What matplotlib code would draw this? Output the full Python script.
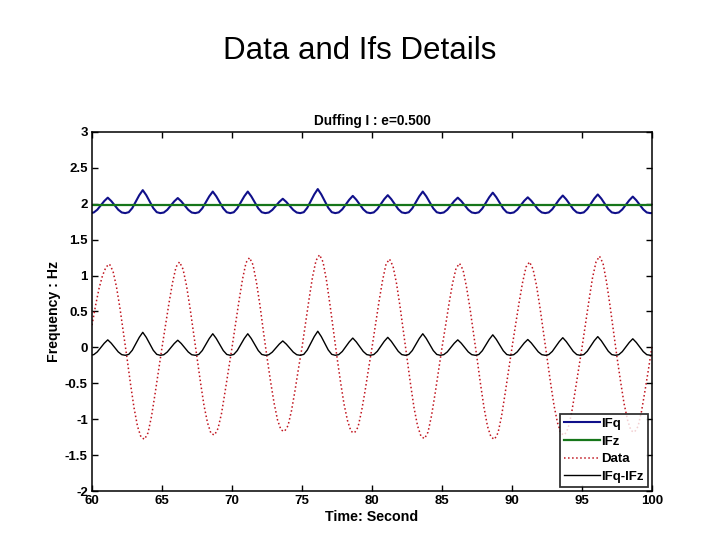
"""
Duffing I (e=0.500): data and instantaneous frequencies, 60-100 s.
"""

import numpy as np
import matplotlib
matplotlib.use('Agg')
import matplotlib.pyplot as plt

plt.rcParams['font.family'] = ['Liberation Sans', 'DejaVu Sans']

# Data (red dotted), sampled every 0.25 s from 60 to 100 s
DATA_T0, DATA_DT = 60.0, 0.25
DATA = [
    0.31, 0.58, 0.82, 1.00, 1.12, 1.16, 1.06, 0.84, 0.54, 0.20,
    -0.15, -0.51, -0.84, -1.10, -1.25, -1.28, -1.19, -0.96, -0.65, -0.32,
    0.00, 0.31, 0.62, 0.90, 1.12, 1.19, 1.09, 0.86, 0.55, 0.20,
    -0.15, -0.49, -0.81, -1.05, -1.20, -1.22, -1.13, -0.92, -0.62, -0.31,
    0.00, 0.33, 0.65, 0.95, 1.18, 1.25, 1.15, 0.90, 0.58, 0.21,
    -0.14, -0.47, -0.77, -1.01, -1.15, -1.17, -1.09, -0.88, -0.60, -0.29,
    0.00, 0.34, 0.67, 0.98, 1.21, 1.29, 1.19, 0.93, 0.59, 0.22,
    -0.14, -0.48, -0.79, -1.02, -1.17, -1.19, -1.11, -0.89, -0.61, -0.30,
    0.00, 0.32, 0.64, 0.93, 1.16, 1.23, 1.13, 0.89, 0.57, 0.21,
    -0.15, -0.51, -0.84, -1.09, -1.24, -1.27, -1.18, -0.95, -0.65, -0.32,
    0.00, 0.30, 0.61, 0.89, 1.10, 1.17, 1.08, 0.84, 0.54, 0.20,
    -0.15, -0.51, -0.84, -1.10, -1.25, -1.28, -1.19, -0.96, -0.65, -0.32,
    0.00, 0.31, 0.62, 0.90, 1.12, 1.19, 1.09, 0.86, 0.55, 0.20,
    -0.15, -0.49, -0.81, -1.05, -1.20, -1.22, -1.13, -0.92, -0.62, -0.31,
    0.00, 0.33, 0.66, 0.97, 1.19, 1.27, 1.17, 0.91, 0.58, 0.22,
    -0.14, -0.47, -0.78, -1.01, -1.16, -1.18, -1.10, -0.89, -0.60, -0.30,
    0.02,
]

# IFq (blue), sampled every 0.25 s starting at 59.875 s
IFQ_T0, IFQ_DT = 59.875, 0.25
IFQ = [
    1.870, 1.879, 1.917, 1.978, 2.038, 2.085,
    2.038, 1.978, 1.917, 1.879, 1.870, 1.883, 1.940, 2.030, 2.120, 2.190,
    2.120, 2.030, 1.940, 1.883, 1.870, 1.878, 1.916, 1.975, 2.034, 2.080,
    2.034, 1.975, 1.916, 1.878, 1.870, 1.882, 1.936, 2.020, 2.104, 2.170,
    2.104, 2.020, 1.936, 1.882, 1.870, 1.882, 1.936, 2.020, 2.104, 2.170,
    2.104, 2.020, 1.936, 1.882, 1.870, 1.878, 1.914, 1.970, 2.026, 2.070,
    2.026, 1.970, 1.914, 1.878, 1.870, 1.883, 1.944, 2.038, 2.131, 2.205,
    2.131, 2.038, 1.944, 1.883, 1.870, 1.880, 1.923, 1.990, 2.057, 2.110,
    2.057, 1.990, 1.923, 1.880, 1.870, 1.880, 1.925, 1.995, 2.065, 2.120,
    2.065, 1.995, 1.925, 1.880, 1.870, 1.882, 1.936, 2.020, 2.104, 2.170,
    2.104, 2.020, 1.936, 1.882, 1.870, 1.879, 1.917, 1.978, 2.038, 2.085,
    2.038, 1.978, 1.917, 1.879, 1.870, 1.881, 1.933, 2.013, 2.092, 2.155,
    2.092, 2.013, 1.933, 1.881, 1.870, 1.879, 1.918, 1.980, 2.042, 2.090,
    2.042, 1.980, 1.918, 1.879, 1.870, 1.880, 1.924, 1.993, 2.061, 2.115,
    2.061, 1.993, 1.924, 1.880, 1.870, 1.880, 1.927, 2.000, 2.073, 2.130,
    2.073, 2.000, 1.927, 1.880, 1.870, 1.879, 1.921, 1.985, 2.049, 2.100,
    2.049, 1.985, 1.921, 1.879, 1.870, 1.875,
]

# IFz (green) is flat at this level over the window
IFZ_LEVEL = 1.98

X_TICKS = [60, 65, 70, 75, 80, 85, 90, 95, 100]
Y_TICKS = [-2, -1.5, -1, -0.5, 0, 0.5, 1, 1.5, 2, 2.5, 3]
Y_TICK_LABELS = ['-2', '-1.5', '-1', '-0.5', '0', '0.5', '1', '1.5', '2', '2.5', '3']

BLUE = '#10108a'
GREEN = '#16761a'
RED = '#c0141e'
BLACK = '#000000'

t_data = DATA_T0 + DATA_DT * np.arange(len(DATA))
t_q = IFQ_T0 + IFQ_DT * np.arange(len(IFQ))
ifq = np.array(IFQ)
ifz = np.full_like(ifq, IFZ_LEVEL)
diff = ifq - ifz

fig = plt.figure(figsize=(7.2, 5.4), dpi=100)
fig.patch.set_facecolor('white')
fig.text(0.5, 0.906, "Data and Ifs Details", ha='center', va='center',
         fontsize=22.5, color='black')

ax = fig.add_axes([0.1278, 0.0907, 0.7778, 0.6649])
ax.plot(t_q, ifq, color=BLUE, lw=1.5, label='IFq')
ax.plot(t_q, ifz, color=GREEN, lw=1.6, label='IFz')
ax.plot(t_data, DATA, color=RED, lw=1.1, ls=':', label='Data')
ax.plot(t_q, diff, color=BLACK, lw=1.0, label='IFq-IFz')

ax.set_xlim(60, 100)
ax.set_ylim(-2, 3)
ax.set_xticks(X_TICKS)
ax.set_yticks(Y_TICKS)
ax.set_yticklabels(Y_TICK_LABELS)
ax.tick_params(direction='in', length=4, width=1, top=True, right=True,
               labelsize=9.5, pad=3)
for lbl in ax.get_xticklabels() + ax.get_yticklabels():
    lbl.set_fontweight('bold')
for sp in ax.spines.values():
    sp.set_linewidth(1.1)

ax.set_title("Duffing I : e=0.500", fontsize=9.8, fontweight='bold', pad=5)
ax.set_xlabel("Time: Second", fontsize=10.3, fontweight='bold', labelpad=2)
ax.set_ylabel("Frequency : Hz", fontsize=10.2, fontweight='bold', labelpad=3)

leg = ax.legend(loc='lower right', fontsize=9.5, frameon=True, fancybox=False,
                borderaxespad=0.3, handlelength=2.7, handletextpad=0.15,
                labelspacing=0.42, borderpad=0.3)
leg.get_frame().set_edgecolor('black')
leg.get_frame().set_linewidth(1.3)
for txt in leg.get_texts():
    txt.set_fontweight('bold')

fig.savefig('out.png', dpi=100, facecolor='white')
plt.close(fig)
